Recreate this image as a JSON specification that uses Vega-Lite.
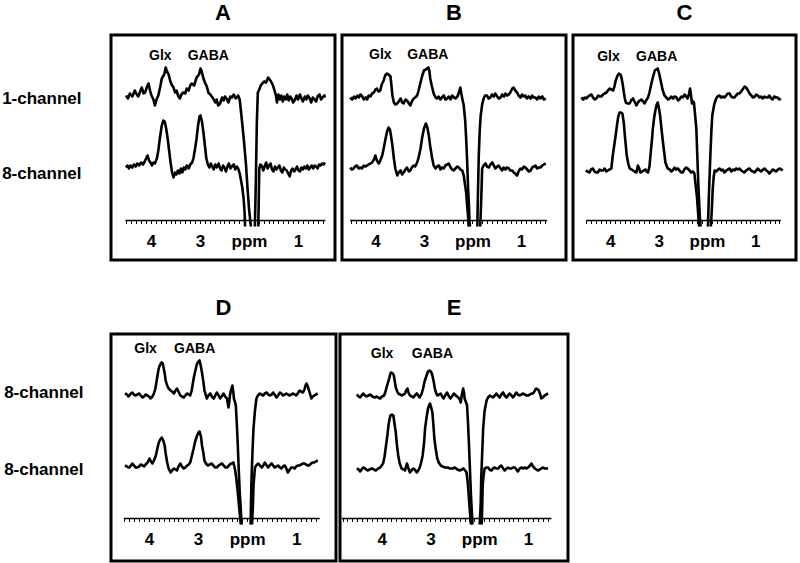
{
"$schema": "https://vega.github.io/schema/vega-lite/v6.json",
"background": "white",
"padding": {"left": 0, "top": 0, "right": 0, "bottom": 0},
"config": {
  "view": {"stroke": "black", "strokeWidth": 3},
  "font": "Liberation Sans",
  "title": {"fontSize": 22, "fontWeight": "bold", "color": "black", "font": "Liberation Sans", "anchor": "middle"}
},
"datasets": {
"base": [
 {"p":"A","x":4.52,"x2":0.44,"y":0},
 {"p":"B","x":4.52,"x2":0.46,"y":0},
 {"p":"C","x":4.50,"x2":0.47,"y":0},
 {"p":"D","x":4.51,"x2":0.52,"y":0},
 {"p":"E","x":4.82,"x2":0.52,"y":0}
],
"lab": [
 {"p":"A","x":3.81,"y":165,"text":"Glx"},{"p":"A","x":2.83,"y":165,"text":"GABA"},
 {"p":"B","x":3.90,"y":166,"text":"Glx"},{"p":"B","x":2.92,"y":166,"text":"GABA"},
 {"p":"C","x":4.04,"y":164,"text":"Glx"},{"p":"C","x":3.04,"y":164,"text":"GABA"},
 {"p":"D","x":4.07,"y":170,"text":"Glx"},{"p":"D","x":3.07,"y":170,"text":"GABA"},
 {"p":"E","x":3.99,"y":165,"text":"Glx"},{"p":"E","x":2.96,"y":165,"text":"GABA"}
],
"sp": [
{"p":"A","s":"1L","x":4.51,"y":125},{"p":"A","s":"1L","x":4.47,"y":122},{"p":"A","s":"1L","x":4.43,"y":127},{"p":"A","s":"1L","x":4.38,"y":124},{"p":"A","s":"1L","x":4.33,"y":130},{"p":"A","s":"1L","x":4.29,"y":126},{"p":"A","s":"1L","x":4.26,"y":124},{"p":"A","s":"1L","x":4.22,"y":129},{"p":"A","s":"1L","x":4.19,"y":133},{"p":"A","s":"1L","x":4.15,"y":127},{"p":"A","s":"1L","x":4.12,"y":128},{"p":"A","s":"1L","x":4.08,"y":134},{"p":"A","s":"1L","x":4.05,"y":137},{"p":"A","s":"1L","x":4.02,"y":130},{"p":"A","s":"1L","x":3.99,"y":125},{"p":"A","s":"1L","x":3.95,"y":121},{"p":"A","s":"1L","x":3.92,"y":115},{"p":"A","s":"1L","x":3.88,"y":122},{"p":"A","s":"1L","x":3.85,"y":125},{"p":"A","s":"1L","x":3.81,"y":134},{"p":"A","s":"1L","x":3.78,"y":142},{"p":"A","s":"1L","x":3.73,"y":146},{"p":"A","s":"1L","x":3.70,"y":153},{"p":"A","s":"1L","x":3.68,"y":150},{"p":"A","s":"1L","x":3.64,"y":146},{"p":"A","s":"1L","x":3.61,"y":140},{"p":"A","s":"1L","x":3.58,"y":136},{"p":"A","s":"1L","x":3.54,"y":133},{"p":"A","s":"1L","x":3.51,"y":128},{"p":"A","s":"1L","x":3.48,"y":130},{"p":"A","s":"1L","x":3.44,"y":124},{"p":"A","s":"1L","x":3.41,"y":122},{"p":"A","s":"1L","x":3.38,"y":126},{"p":"A","s":"1L","x":3.34,"y":128},{"p":"A","s":"1L","x":3.30,"y":127},{"p":"A","s":"1L","x":3.27,"y":132},{"p":"A","s":"1L","x":3.23,"y":130},{"p":"A","s":"1L","x":3.20,"y":135},{"p":"A","s":"1L","x":3.17,"y":137},{"p":"A","s":"1L","x":3.12,"y":135},{"p":"A","s":"1L","x":3.07,"y":143},{"p":"A","s":"1L","x":3.02,"y":146},{"p":"A","s":"1L","x":2.99,"y":152},{"p":"A","s":"1L","x":2.97,"y":150},{"p":"A","s":"1L","x":2.93,"y":142},{"p":"A","s":"1L","x":2.90,"y":138},{"p":"A","s":"1L","x":2.86,"y":134},{"p":"A","s":"1L","x":2.83,"y":128},{"p":"A","s":"1L","x":2.79,"y":126},{"p":"A","s":"1L","x":2.76,"y":124},{"p":"A","s":"1L","x":2.73,"y":122},{"p":"A","s":"1L","x":2.69,"y":118},{"p":"A","s":"1L","x":2.66,"y":121},{"p":"A","s":"1L","x":2.63,"y":115},{"p":"A","s":"1L","x":2.59,"y":117},{"p":"A","s":"1L","x":2.55,"y":123},{"p":"A","s":"1L","x":2.52,"y":120},{"p":"A","s":"1L","x":2.49,"y":124},{"p":"A","s":"1L","x":2.46,"y":122},{"p":"A","s":"1L","x":2.42,"y":118},{"p":"A","s":"1L","x":2.38,"y":124},{"p":"A","s":"1L","x":2.35,"y":123},{"p":"A","s":"1L","x":2.31,"y":126},{"p":"A","s":"1L","x":2.27,"y":122},{"p":"A","s":"1L","x":2.22,"y":125},{"p":"A","s":"1L","x":2.19,"y":121},{"p":"A","s":"1L","x":2.17,"y":112},{"p":"A","s":"1L","x":2.14,"y":98},{"p":"A","s":"1L","x":2.10,"y":78},{"p":"A","s":"1L","x":2.06,"y":55},{"p":"A","s":"1L","x":2.03,"y":32},{"p":"A","s":"1L","x":2.00,"y":12},{"p":"A","s":"1L","x":1.97,"y":-2},{"p":"A","s":"1L","x":1.96,"y":-6},
{"p":"A","s":"1R","x":1.88,"y":-6},{"p":"A","s":"1R","x":1.86,"y":40},{"p":"A","s":"1R","x":1.84,"y":98},{"p":"A","s":"1R","x":1.82,"y":128},{"p":"A","s":"1R","x":1.79,"y":131},{"p":"A","s":"1R","x":1.76,"y":135},{"p":"A","s":"1R","x":1.73,"y":137},{"p":"A","s":"1R","x":1.69,"y":139},{"p":"A","s":"1R","x":1.65,"y":138},{"p":"A","s":"1R","x":1.61,"y":143},{"p":"A","s":"1R","x":1.58,"y":141},{"p":"A","s":"1R","x":1.55,"y":139},{"p":"A","s":"1R","x":1.51,"y":135},{"p":"A","s":"1R","x":1.48,"y":130},{"p":"A","s":"1R","x":1.45,"y":125},{"p":"A","s":"1R","x":1.43,"y":118},{"p":"A","s":"1R","x":1.40,"y":126},{"p":"A","s":"1R","x":1.37,"y":121},{"p":"A","s":"1R","x":1.34,"y":125},{"p":"A","s":"1R","x":1.31,"y":119},{"p":"A","s":"1R","x":1.28,"y":124},{"p":"A","s":"1R","x":1.25,"y":121},{"p":"A","s":"1R","x":1.22,"y":126},{"p":"A","s":"1R","x":1.19,"y":120},{"p":"A","s":"1R","x":1.16,"y":124},{"p":"A","s":"1R","x":1.13,"y":122},{"p":"A","s":"1R","x":1.10,"y":118},{"p":"A","s":"1R","x":1.06,"y":121},{"p":"A","s":"1R","x":1.03,"y":125},{"p":"A","s":"1R","x":1.00,"y":121},{"p":"A","s":"1R","x":0.96,"y":126},{"p":"A","s":"1R","x":0.93,"y":122},{"p":"A","s":"1R","x":0.90,"y":119},{"p":"A","s":"1R","x":0.86,"y":124},{"p":"A","s":"1R","x":0.83,"y":121},{"p":"A","s":"1R","x":0.80,"y":125},{"p":"A","s":"1R","x":0.76,"y":122},{"p":"A","s":"1R","x":0.73,"y":118},{"p":"A","s":"1R","x":0.70,"y":123},{"p":"A","s":"1R","x":0.66,"y":121},{"p":"A","s":"1R","x":0.63,"y":119},{"p":"A","s":"1R","x":0.60,"y":124},{"p":"A","s":"1R","x":0.56,"y":126},{"p":"A","s":"1R","x":0.53,"y":121},{"p":"A","s":"1R","x":0.50,"y":123},{"p":"A","s":"1R","x":0.46,"y":125},{"p":"A","s":"1R","x":0.45,"y":123},
{"p":"A","s":"2L","x":4.51,"y":53},{"p":"A","s":"2L","x":4.48,"y":55},{"p":"A","s":"2L","x":4.45,"y":52},{"p":"A","s":"2L","x":4.42,"y":55},{"p":"A","s":"2L","x":4.38,"y":53},{"p":"A","s":"2L","x":4.35,"y":56},{"p":"A","s":"2L","x":4.31,"y":54},{"p":"A","s":"2L","x":4.28,"y":57},{"p":"A","s":"2L","x":4.24,"y":55},{"p":"A","s":"2L","x":4.20,"y":58},{"p":"A","s":"2L","x":4.16,"y":56},{"p":"A","s":"2L","x":4.13,"y":59},{"p":"A","s":"2L","x":4.10,"y":62},{"p":"A","s":"2L","x":4.07,"y":65},{"p":"A","s":"2L","x":4.04,"y":60},{"p":"A","s":"2L","x":4.01,"y":58},{"p":"A","s":"2L","x":3.98,"y":55},{"p":"A","s":"2L","x":3.95,"y":58},{"p":"A","s":"2L","x":3.92,"y":57},{"p":"A","s":"2L","x":3.88,"y":62},{"p":"A","s":"2L","x":3.85,"y":70},{"p":"A","s":"2L","x":3.82,"y":82},{"p":"A","s":"2L","x":3.78,"y":95},{"p":"A","s":"2L","x":3.75,"y":100},{"p":"A","s":"2L","x":3.72,"y":99},{"p":"A","s":"2L","x":3.69,"y":92},{"p":"A","s":"2L","x":3.66,"y":82},{"p":"A","s":"2L","x":3.63,"y":70},{"p":"A","s":"2L","x":3.60,"y":58},{"p":"A","s":"2L","x":3.57,"y":48},{"p":"A","s":"2L","x":3.54,"y":43},{"p":"A","s":"2L","x":3.51,"y":48},{"p":"A","s":"2L","x":3.48,"y":46},{"p":"A","s":"2L","x":3.45,"y":50},{"p":"A","s":"2L","x":3.42,"y":47},{"p":"A","s":"2L","x":3.39,"y":52},{"p":"A","s":"2L","x":3.36,"y":48},{"p":"A","s":"2L","x":3.33,"y":53},{"p":"A","s":"2L","x":3.30,"y":51},{"p":"A","s":"2L","x":3.27,"y":55},{"p":"A","s":"2L","x":3.23,"y":52},{"p":"A","s":"2L","x":3.20,"y":56},{"p":"A","s":"2L","x":3.16,"y":58},{"p":"A","s":"2L","x":3.13,"y":63},{"p":"A","s":"2L","x":3.10,"y":72},{"p":"A","s":"2L","x":3.07,"y":82},{"p":"A","s":"2L","x":3.04,"y":95},{"p":"A","s":"2L","x":3.01,"y":104},{"p":"A","s":"2L","x":2.99,"y":105},{"p":"A","s":"2L","x":2.96,"y":99},{"p":"A","s":"2L","x":2.93,"y":88},{"p":"A","s":"2L","x":2.90,"y":75},{"p":"A","s":"2L","x":2.87,"y":62},{"p":"A","s":"2L","x":2.84,"y":56},{"p":"A","s":"2L","x":2.81,"y":53},{"p":"A","s":"2L","x":2.78,"y":57},{"p":"A","s":"2L","x":2.75,"y":54},{"p":"A","s":"2L","x":2.72,"y":51},{"p":"A","s":"2L","x":2.69,"y":56},{"p":"A","s":"2L","x":2.66,"y":53},{"p":"A","s":"2L","x":2.62,"y":57},{"p":"A","s":"2L","x":2.59,"y":52},{"p":"A","s":"2L","x":2.56,"y":50},{"p":"A","s":"2L","x":2.53,"y":55},{"p":"A","s":"2L","x":2.50,"y":53},{"p":"A","s":"2L","x":2.47,"y":49},{"p":"A","s":"2L","x":2.44,"y":54},{"p":"A","s":"2L","x":2.41,"y":57},{"p":"A","s":"2L","x":2.38,"y":52},{"p":"A","s":"2L","x":2.35,"y":54},{"p":"A","s":"2L","x":2.31,"y":56},{"p":"A","s":"2L","x":2.28,"y":51},{"p":"A","s":"2L","x":2.25,"y":54},{"p":"A","s":"2L","x":2.22,"y":52},{"p":"A","s":"2L","x":2.19,"y":47},{"p":"A","s":"2L","x":2.17,"y":42},{"p":"A","s":"2L","x":2.14,"y":34},{"p":"A","s":"2L","x":2.11,"y":22},{"p":"A","s":"2L","x":2.09,"y":8},{"p":"A","s":"2L","x":2.08,"y":-6},
{"p":"A","s":"2R","x":1.81,"y":-6},{"p":"A","s":"2R","x":1.80,"y":25},{"p":"A","s":"2R","x":1.79,"y":52},{"p":"A","s":"2R","x":1.77,"y":56},{"p":"A","s":"2R","x":1.74,"y":55},{"p":"A","s":"2R","x":1.71,"y":50},{"p":"A","s":"2R","x":1.68,"y":54},{"p":"A","s":"2R","x":1.65,"y":58},{"p":"A","s":"2R","x":1.62,"y":52},{"p":"A","s":"2R","x":1.59,"y":55},{"p":"A","s":"2R","x":1.56,"y":57},{"p":"A","s":"2R","x":1.53,"y":51},{"p":"A","s":"2R","x":1.50,"y":49},{"p":"A","s":"2R","x":1.47,"y":54},{"p":"A","s":"2R","x":1.44,"y":51},{"p":"A","s":"2R","x":1.41,"y":53},{"p":"A","s":"2R","x":1.38,"y":55},{"p":"A","s":"2R","x":1.35,"y":50},{"p":"A","s":"2R","x":1.32,"y":48},{"p":"A","s":"2R","x":1.29,"y":53},{"p":"A","s":"2R","x":1.26,"y":51},{"p":"A","s":"2R","x":1.23,"y":50},{"p":"A","s":"2R","x":1.20,"y":47},{"p":"A","s":"2R","x":1.17,"y":44},{"p":"A","s":"2R","x":1.14,"y":50},{"p":"A","s":"2R","x":1.11,"y":52},{"p":"A","s":"2R","x":1.08,"y":49},{"p":"A","s":"2R","x":1.05,"y":51},{"p":"A","s":"2R","x":1.02,"y":54},{"p":"A","s":"2R","x":0.99,"y":50},{"p":"A","s":"2R","x":0.96,"y":49},{"p":"A","s":"2R","x":0.93,"y":53},{"p":"A","s":"2R","x":0.90,"y":51},{"p":"A","s":"2R","x":0.87,"y":54},{"p":"A","s":"2R","x":0.84,"y":52},{"p":"A","s":"2R","x":0.81,"y":55},{"p":"A","s":"2R","x":0.78,"y":51},{"p":"A","s":"2R","x":0.75,"y":53},{"p":"A","s":"2R","x":0.72,"y":55},{"p":"A","s":"2R","x":0.69,"y":52},{"p":"A","s":"2R","x":0.66,"y":55},{"p":"A","s":"2R","x":0.63,"y":54},{"p":"A","s":"2R","x":0.60,"y":52},{"p":"A","s":"2R","x":0.57,"y":56},{"p":"A","s":"2R","x":0.54,"y":55},{"p":"A","s":"2R","x":0.51,"y":57},{"p":"A","s":"2R","x":0.48,"y":56},{"p":"A","s":"2R","x":0.45,"y":58},
{"p":"B","s":"1L","x":4.52,"y":123},{"p":"B","s":"1L","x":4.48,"y":121},{"p":"B","s":"1L","x":4.44,"y":124},{"p":"B","s":"1L","x":4.41,"y":122},{"p":"B","s":"1L","x":4.37,"y":125},{"p":"B","s":"1L","x":4.34,"y":123},{"p":"B","s":"1L","x":4.31,"y":126},{"p":"B","s":"1L","x":4.27,"y":124},{"p":"B","s":"1L","x":4.24,"y":121},{"p":"B","s":"1L","x":4.20,"y":123},{"p":"B","s":"1L","x":4.17,"y":121},{"p":"B","s":"1L","x":4.14,"y":125},{"p":"B","s":"1L","x":4.10,"y":124},{"p":"B","s":"1L","x":4.07,"y":127},{"p":"B","s":"1L","x":4.03,"y":128},{"p":"B","s":"1L","x":4.00,"y":131},{"p":"B","s":"1L","x":3.97,"y":132},{"p":"B","s":"1L","x":3.94,"y":129},{"p":"B","s":"1L","x":3.90,"y":130},{"p":"B","s":"1L","x":3.87,"y":136},{"p":"B","s":"1L","x":3.83,"y":140},{"p":"B","s":"1L","x":3.80,"y":145},{"p":"B","s":"1L","x":3.76,"y":147},{"p":"B","s":"1L","x":3.73,"y":146},{"p":"B","s":"1L","x":3.69,"y":144},{"p":"B","s":"1L","x":3.67,"y":135},{"p":"B","s":"1L","x":3.65,"y":125},{"p":"B","s":"1L","x":3.62,"y":118},{"p":"B","s":"1L","x":3.59,"y":116},{"p":"B","s":"1L","x":3.55,"y":117},{"p":"B","s":"1L","x":3.52,"y":119},{"p":"B","s":"1L","x":3.48,"y":122},{"p":"B","s":"1L","x":3.45,"y":118},{"p":"B","s":"1L","x":3.42,"y":117},{"p":"B","s":"1L","x":3.38,"y":121},{"p":"B","s":"1L","x":3.35,"y":120},{"p":"B","s":"1L","x":3.31,"y":117},{"p":"B","s":"1L","x":3.28,"y":115},{"p":"B","s":"1L","x":3.25,"y":119},{"p":"B","s":"1L","x":3.21,"y":122},{"p":"B","s":"1L","x":3.18,"y":123},{"p":"B","s":"1L","x":3.14,"y":125},{"p":"B","s":"1L","x":3.11,"y":130},{"p":"B","s":"1L","x":3.07,"y":138},{"p":"B","s":"1L","x":3.04,"y":144},{"p":"B","s":"1L","x":3.00,"y":150},{"p":"B","s":"1L","x":2.96,"y":151},{"p":"B","s":"1L","x":2.91,"y":153},{"p":"B","s":"1L","x":2.89,"y":150},{"p":"B","s":"1L","x":2.87,"y":142},{"p":"B","s":"1L","x":2.84,"y":135},{"p":"B","s":"1L","x":2.80,"y":127},{"p":"B","s":"1L","x":2.76,"y":123},{"p":"B","s":"1L","x":2.73,"y":122},{"p":"B","s":"1L","x":2.70,"y":124},{"p":"B","s":"1L","x":2.66,"y":121},{"p":"B","s":"1L","x":2.63,"y":123},{"p":"B","s":"1L","x":2.59,"y":125},{"p":"B","s":"1L","x":2.56,"y":121},{"p":"B","s":"1L","x":2.52,"y":122},{"p":"B","s":"1L","x":2.49,"y":124},{"p":"B","s":"1L","x":2.45,"y":121},{"p":"B","s":"1L","x":2.42,"y":125},{"p":"B","s":"1L","x":2.38,"y":123},{"p":"B","s":"1L","x":2.35,"y":122},{"p":"B","s":"1L","x":2.31,"y":124},{"p":"B","s":"1L","x":2.28,"y":128},{"p":"B","s":"1L","x":2.25,"y":133},{"p":"B","s":"1L","x":2.23,"y":127},{"p":"B","s":"1L","x":2.21,"y":122},{"p":"B","s":"1L","x":2.18,"y":115},{"p":"B","s":"1L","x":2.15,"y":100},{"p":"B","s":"1L","x":2.13,"y":82},{"p":"B","s":"1L","x":2.11,"y":60},{"p":"B","s":"1L","x":2.09,"y":32},{"p":"B","s":"1L","x":2.07,"y":12},{"p":"B","s":"1L","x":2.06,"y":-2},{"p":"B","s":"1L","x":2.05,"y":-6},
{"p":"B","s":"1R","x":1.90,"y":-6},{"p":"B","s":"1R","x":1.89,"y":20},{"p":"B","s":"1R","x":1.87,"y":65},{"p":"B","s":"1R","x":1.85,"y":90},{"p":"B","s":"1R","x":1.83,"y":105},{"p":"B","s":"1R","x":1.80,"y":116},{"p":"B","s":"1R","x":1.77,"y":122},{"p":"B","s":"1R","x":1.74,"y":125},{"p":"B","s":"1R","x":1.70,"y":125},{"p":"B","s":"1R","x":1.67,"y":122},{"p":"B","s":"1R","x":1.63,"y":123},{"p":"B","s":"1R","x":1.60,"y":126},{"p":"B","s":"1R","x":1.56,"y":124},{"p":"B","s":"1R","x":1.53,"y":127},{"p":"B","s":"1R","x":1.49,"y":124},{"p":"B","s":"1R","x":1.46,"y":122},{"p":"B","s":"1R","x":1.42,"y":123},{"p":"B","s":"1R","x":1.39,"y":126},{"p":"B","s":"1R","x":1.35,"y":124},{"p":"B","s":"1R","x":1.32,"y":127},{"p":"B","s":"1R","x":1.29,"y":125},{"p":"B","s":"1R","x":1.25,"y":126},{"p":"B","s":"1R","x":1.22,"y":128},{"p":"B","s":"1R","x":1.18,"y":132},{"p":"B","s":"1R","x":1.15,"y":133},{"p":"B","s":"1R","x":1.12,"y":130},{"p":"B","s":"1R","x":1.08,"y":128},{"p":"B","s":"1R","x":1.05,"y":125},{"p":"B","s":"1R","x":1.01,"y":123},{"p":"B","s":"1R","x":0.98,"y":126},{"p":"B","s":"1R","x":0.95,"y":124},{"p":"B","s":"1R","x":0.91,"y":125},{"p":"B","s":"1R","x":0.88,"y":122},{"p":"B","s":"1R","x":0.84,"y":124},{"p":"B","s":"1R","x":0.80,"y":122},{"p":"B","s":"1R","x":0.77,"y":125},{"p":"B","s":"1R","x":0.74,"y":123},{"p":"B","s":"1R","x":0.70,"y":123},{"p":"B","s":"1R","x":0.67,"y":121},{"p":"B","s":"1R","x":0.63,"y":124},{"p":"B","s":"1R","x":0.60,"y":122},{"p":"B","s":"1R","x":0.56,"y":124},{"p":"B","s":"1R","x":0.53,"y":121},{"p":"B","s":"1R","x":0.49,"y":122},
{"p":"B","s":"2L","x":4.52,"y":53},{"p":"B","s":"2L","x":4.49,"y":51},{"p":"B","s":"2L","x":4.45,"y":52},{"p":"B","s":"2L","x":4.42,"y":54},{"p":"B","s":"2L","x":4.38,"y":55},{"p":"B","s":"2L","x":4.35,"y":52},{"p":"B","s":"2L","x":4.31,"y":53},{"p":"B","s":"2L","x":4.28,"y":52},{"p":"B","s":"2L","x":4.24,"y":55},{"p":"B","s":"2L","x":4.21,"y":54},{"p":"B","s":"2L","x":4.17,"y":55},{"p":"B","s":"2L","x":4.14,"y":56},{"p":"B","s":"2L","x":4.10,"y":57},{"p":"B","s":"2L","x":4.07,"y":58},{"p":"B","s":"2L","x":4.03,"y":61},{"p":"B","s":"2L","x":4.00,"y":65},{"p":"B","s":"2L","x":3.97,"y":60},{"p":"B","s":"2L","x":3.93,"y":57},{"p":"B","s":"2L","x":3.90,"y":60},{"p":"B","s":"2L","x":3.86,"y":65},{"p":"B","s":"2L","x":3.83,"y":72},{"p":"B","s":"2L","x":3.79,"y":82},{"p":"B","s":"2L","x":3.76,"y":89},{"p":"B","s":"2L","x":3.73,"y":93},{"p":"B","s":"2L","x":3.70,"y":91},{"p":"B","s":"2L","x":3.68,"y":85},{"p":"B","s":"2L","x":3.65,"y":75},{"p":"B","s":"2L","x":3.62,"y":62},{"p":"B","s":"2L","x":3.59,"y":52},{"p":"B","s":"2L","x":3.55,"y":45},{"p":"B","s":"2L","x":3.52,"y":48},{"p":"B","s":"2L","x":3.48,"y":50},{"p":"B","s":"2L","x":3.45,"y":46},{"p":"B","s":"2L","x":3.42,"y":48},{"p":"B","s":"2L","x":3.38,"y":51},{"p":"B","s":"2L","x":3.35,"y":53},{"p":"B","s":"2L","x":3.31,"y":49},{"p":"B","s":"2L","x":3.28,"y":50},{"p":"B","s":"2L","x":3.25,"y":53},{"p":"B","s":"2L","x":3.21,"y":55},{"p":"B","s":"2L","x":3.18,"y":54},{"p":"B","s":"2L","x":3.14,"y":58},{"p":"B","s":"2L","x":3.11,"y":63},{"p":"B","s":"2L","x":3.07,"y":72},{"p":"B","s":"2L","x":3.04,"y":82},{"p":"B","s":"2L","x":3.00,"y":92},{"p":"B","s":"2L","x":2.96,"y":97},{"p":"B","s":"2L","x":2.93,"y":93},{"p":"B","s":"2L","x":2.90,"y":85},{"p":"B","s":"2L","x":2.87,"y":74},{"p":"B","s":"2L","x":2.83,"y":62},{"p":"B","s":"2L","x":2.80,"y":55},{"p":"B","s":"2L","x":2.76,"y":52},{"p":"B","s":"2L","x":2.73,"y":54},{"p":"B","s":"2L","x":2.69,"y":55},{"p":"B","s":"2L","x":2.66,"y":51},{"p":"B","s":"2L","x":2.63,"y":53},{"p":"B","s":"2L","x":2.59,"y":52},{"p":"B","s":"2L","x":2.56,"y":55},{"p":"B","s":"2L","x":2.52,"y":56},{"p":"B","s":"2L","x":2.49,"y":57},{"p":"B","s":"2L","x":2.45,"y":53},{"p":"B","s":"2L","x":2.42,"y":51},{"p":"B","s":"2L","x":2.39,"y":50},{"p":"B","s":"2L","x":2.35,"y":52},{"p":"B","s":"2L","x":2.31,"y":54},{"p":"B","s":"2L","x":2.28,"y":53},{"p":"B","s":"2L","x":2.25,"y":51},{"p":"B","s":"2L","x":2.21,"y":50},{"p":"B","s":"2L","x":2.18,"y":45},{"p":"B","s":"2L","x":2.16,"y":38},{"p":"B","s":"2L","x":2.13,"y":28},{"p":"B","s":"2L","x":2.11,"y":15},{"p":"B","s":"2L","x":2.09,"y":4},{"p":"B","s":"2L","x":2.08,"y":-6},
{"p":"B","s":"2R","x":1.84,"y":-6},{"p":"B","s":"2R","x":1.82,"y":20},{"p":"B","s":"2R","x":1.80,"y":52},{"p":"B","s":"2R","x":1.77,"y":55},{"p":"B","s":"2R","x":1.73,"y":57},{"p":"B","s":"2R","x":1.70,"y":54},{"p":"B","s":"2R","x":1.66,"y":53},{"p":"B","s":"2R","x":1.63,"y":56},{"p":"B","s":"2R","x":1.59,"y":58},{"p":"B","s":"2R","x":1.56,"y":55},{"p":"B","s":"2R","x":1.53,"y":52},{"p":"B","s":"2R","x":1.49,"y":54},{"p":"B","s":"2R","x":1.46,"y":55},{"p":"B","s":"2R","x":1.42,"y":52},{"p":"B","s":"2R","x":1.39,"y":50},{"p":"B","s":"2R","x":1.36,"y":53},{"p":"B","s":"2R","x":1.32,"y":51},{"p":"B","s":"2R","x":1.29,"y":53},{"p":"B","s":"2R","x":1.25,"y":52},{"p":"B","s":"2R","x":1.22,"y":50},{"p":"B","s":"2R","x":1.18,"y":50},{"p":"B","s":"2R","x":1.15,"y":48},{"p":"B","s":"2R","x":1.12,"y":47},{"p":"B","s":"2R","x":1.08,"y":45},{"p":"B","s":"2R","x":1.05,"y":49},{"p":"B","s":"2R","x":1.01,"y":52},{"p":"B","s":"2R","x":0.98,"y":51},{"p":"B","s":"2R","x":0.94,"y":54},{"p":"B","s":"2R","x":0.91,"y":53},{"p":"B","s":"2R","x":0.87,"y":51},{"p":"B","s":"2R","x":0.84,"y":49},{"p":"B","s":"2R","x":0.80,"y":50},{"p":"B","s":"2R","x":0.77,"y":53},{"p":"B","s":"2R","x":0.73,"y":54},{"p":"B","s":"2R","x":0.70,"y":55},{"p":"B","s":"2R","x":0.67,"y":52},{"p":"B","s":"2R","x":0.63,"y":53},{"p":"B","s":"2R","x":0.60,"y":53},{"p":"B","s":"2R","x":0.56,"y":55},{"p":"B","s":"2R","x":0.53,"y":56},{"p":"B","s":"2R","x":0.49,"y":57},
{"p":"C","s":"1L","x":4.60,"y":123},{"p":"C","s":"1L","x":4.56,"y":121},{"p":"C","s":"1L","x":4.53,"y":123},{"p":"C","s":"1L","x":4.50,"y":122},{"p":"C","s":"1L","x":4.46,"y":124},{"p":"C","s":"1L","x":4.43,"y":125},{"p":"C","s":"1L","x":4.39,"y":126},{"p":"C","s":"1L","x":4.36,"y":123},{"p":"C","s":"1L","x":4.32,"y":121},{"p":"C","s":"1L","x":4.29,"y":122},{"p":"C","s":"1L","x":4.25,"y":125},{"p":"C","s":"1L","x":4.22,"y":124},{"p":"C","s":"1L","x":4.19,"y":124},{"p":"C","s":"1L","x":4.15,"y":126},{"p":"C","s":"1L","x":4.12,"y":127},{"p":"C","s":"1L","x":4.08,"y":128},{"p":"C","s":"1L","x":4.05,"y":130},{"p":"C","s":"1L","x":4.01,"y":132},{"p":"C","s":"1L","x":3.98,"y":131},{"p":"C","s":"1L","x":3.94,"y":130},{"p":"C","s":"1L","x":3.91,"y":135},{"p":"C","s":"1L","x":3.89,"y":140},{"p":"C","s":"1L","x":3.85,"y":145},{"p":"C","s":"1L","x":3.82,"y":147},{"p":"C","s":"1L","x":3.79,"y":146},{"p":"C","s":"1L","x":3.77,"y":143},{"p":"C","s":"1L","x":3.74,"y":135},{"p":"C","s":"1L","x":3.72,"y":128},{"p":"C","s":"1L","x":3.70,"y":122},{"p":"C","s":"1L","x":3.68,"y":118},{"p":"C","s":"1L","x":3.64,"y":117},{"p":"C","s":"1L","x":3.60,"y":117},{"p":"C","s":"1L","x":3.57,"y":120},{"p":"C","s":"1L","x":3.53,"y":122},{"p":"C","s":"1L","x":3.50,"y":119},{"p":"C","s":"1L","x":3.46,"y":115},{"p":"C","s":"1L","x":3.43,"y":118},{"p":"C","s":"1L","x":3.39,"y":120},{"p":"C","s":"1L","x":3.36,"y":121},{"p":"C","s":"1L","x":3.32,"y":119},{"p":"C","s":"1L","x":3.29,"y":117},{"p":"C","s":"1L","x":3.26,"y":120},{"p":"C","s":"1L","x":3.22,"y":123},{"p":"C","s":"1L","x":3.19,"y":128},{"p":"C","s":"1L","x":3.15,"y":137},{"p":"C","s":"1L","x":3.12,"y":143},{"p":"C","s":"1L","x":3.08,"y":150},{"p":"C","s":"1L","x":3.05,"y":151},{"p":"C","s":"1L","x":3.02,"y":152},{"p":"C","s":"1L","x":2.99,"y":147},{"p":"C","s":"1L","x":2.95,"y":138},{"p":"C","s":"1L","x":2.92,"y":131},{"p":"C","s":"1L","x":2.88,"y":125},{"p":"C","s":"1L","x":2.84,"y":123},{"p":"C","s":"1L","x":2.81,"y":121},{"p":"C","s":"1L","x":2.77,"y":122},{"p":"C","s":"1L","x":2.74,"y":124},{"p":"C","s":"1L","x":2.70,"y":122},{"p":"C","s":"1L","x":2.67,"y":124},{"p":"C","s":"1L","x":2.63,"y":123},{"p":"C","s":"1L","x":2.60,"y":120},{"p":"C","s":"1L","x":2.57,"y":121},{"p":"C","s":"1L","x":2.53,"y":124},{"p":"C","s":"1L","x":2.50,"y":123},{"p":"C","s":"1L","x":2.46,"y":126},{"p":"C","s":"1L","x":2.43,"y":124},{"p":"C","s":"1L","x":2.40,"y":122},{"p":"C","s":"1L","x":2.37,"y":127},{"p":"C","s":"1L","x":2.35,"y":132},{"p":"C","s":"1L","x":2.33,"y":125},{"p":"C","s":"1L","x":2.31,"y":117},{"p":"C","s":"1L","x":2.29,"y":119},{"p":"C","s":"1L","x":2.27,"y":118},{"p":"C","s":"1L","x":2.25,"y":108},{"p":"C","s":"1L","x":2.22,"y":92},{"p":"C","s":"1L","x":2.20,"y":65},{"p":"C","s":"1L","x":2.18,"y":38},{"p":"C","s":"1L","x":2.16,"y":16},{"p":"C","s":"1L","x":2.14,"y":-2},{"p":"C","s":"1L","x":2.13,"y":-6},
{"p":"C","s":"1R","x":1.98,"y":-6},{"p":"C","s":"1R","x":1.96,"y":25},{"p":"C","s":"1R","x":1.93,"y":65},{"p":"C","s":"1R","x":1.91,"y":88},{"p":"C","s":"1R","x":1.89,"y":105},{"p":"C","s":"1R","x":1.85,"y":116},{"p":"C","s":"1R","x":1.81,"y":122},{"p":"C","s":"1R","x":1.78,"y":124},{"p":"C","s":"1R","x":1.74,"y":125},{"p":"C","s":"1R","x":1.71,"y":123},{"p":"C","s":"1R","x":1.67,"y":124},{"p":"C","s":"1R","x":1.64,"y":123},{"p":"C","s":"1R","x":1.60,"y":125},{"p":"C","s":"1R","x":1.57,"y":127},{"p":"C","s":"1R","x":1.53,"y":127},{"p":"C","s":"1R","x":1.50,"y":124},{"p":"C","s":"1R","x":1.46,"y":123},{"p":"C","s":"1R","x":1.43,"y":123},{"p":"C","s":"1R","x":1.40,"y":125},{"p":"C","s":"1R","x":1.36,"y":127},{"p":"C","s":"1R","x":1.33,"y":127},{"p":"C","s":"1R","x":1.29,"y":129},{"p":"C","s":"1R","x":1.25,"y":132},{"p":"C","s":"1R","x":1.22,"y":134},{"p":"C","s":"1R","x":1.19,"y":133},{"p":"C","s":"1R","x":1.15,"y":130},{"p":"C","s":"1R","x":1.12,"y":127},{"p":"C","s":"1R","x":1.08,"y":125},{"p":"C","s":"1R","x":1.05,"y":123},{"p":"C","s":"1R","x":1.01,"y":124},{"p":"C","s":"1R","x":0.98,"y":126},{"p":"C","s":"1R","x":0.95,"y":125},{"p":"C","s":"1R","x":0.91,"y":123},{"p":"C","s":"1R","x":0.88,"y":124},{"p":"C","s":"1R","x":0.85,"y":122},{"p":"C","s":"1R","x":0.81,"y":124},{"p":"C","s":"1R","x":0.78,"y":123},{"p":"C","s":"1R","x":0.74,"y":123},{"p":"C","s":"1R","x":0.71,"y":125},{"p":"C","s":"1R","x":0.67,"y":122},{"p":"C","s":"1R","x":0.64,"y":121},{"p":"C","s":"1R","x":0.61,"y":124},{"p":"C","s":"1R","x":0.57,"y":123},{"p":"C","s":"1R","x":0.54,"y":123},{"p":"C","s":"1R","x":0.50,"y":121},{"p":"C","s":"1R","x":0.47,"y":122},
{"p":"C","s":"2L","x":4.51,"y":50},{"p":"C","s":"2L","x":4.47,"y":49},{"p":"C","s":"2L","x":4.43,"y":48},{"p":"C","s":"2L","x":4.40,"y":51},{"p":"C","s":"2L","x":4.36,"y":52},{"p":"C","s":"2L","x":4.33,"y":49},{"p":"C","s":"2L","x":4.29,"y":48},{"p":"C","s":"2L","x":4.26,"y":48},{"p":"C","s":"2L","x":4.22,"y":51},{"p":"C","s":"2L","x":4.19,"y":50},{"p":"C","s":"2L","x":4.15,"y":50},{"p":"C","s":"2L","x":4.12,"y":52},{"p":"C","s":"2L","x":4.08,"y":49},{"p":"C","s":"2L","x":4.05,"y":50},{"p":"C","s":"2L","x":4.02,"y":51},{"p":"C","s":"2L","x":3.98,"y":52},{"p":"C","s":"2L","x":3.95,"y":65},{"p":"C","s":"2L","x":3.92,"y":75},{"p":"C","s":"2L","x":3.89,"y":85},{"p":"C","s":"2L","x":3.86,"y":96},{"p":"C","s":"2L","x":3.84,"y":103},{"p":"C","s":"2L","x":3.81,"y":108},{"p":"C","s":"2L","x":3.78,"y":108},{"p":"C","s":"2L","x":3.75,"y":107},{"p":"C","s":"2L","x":3.72,"y":97},{"p":"C","s":"2L","x":3.70,"y":85},{"p":"C","s":"2L","x":3.68,"y":75},{"p":"C","s":"2L","x":3.66,"y":65},{"p":"C","s":"2L","x":3.63,"y":57},{"p":"C","s":"2L","x":3.60,"y":52},{"p":"C","s":"2L","x":3.56,"y":51},{"p":"C","s":"2L","x":3.53,"y":50},{"p":"C","s":"2L","x":3.50,"y":49},{"p":"C","s":"2L","x":3.46,"y":48},{"p":"C","s":"2L","x":3.43,"y":55},{"p":"C","s":"2L","x":3.40,"y":52},{"p":"C","s":"2L","x":3.38,"y":48},{"p":"C","s":"2L","x":3.34,"y":49},{"p":"C","s":"2L","x":3.31,"y":50},{"p":"C","s":"2L","x":3.27,"y":51},{"p":"C","s":"2L","x":3.25,"y":49},{"p":"C","s":"2L","x":3.22,"y":48},{"p":"C","s":"2L","x":3.19,"y":54},{"p":"C","s":"2L","x":3.17,"y":65},{"p":"C","s":"2L","x":3.14,"y":80},{"p":"C","s":"2L","x":3.12,"y":92},{"p":"C","s":"2L","x":3.09,"y":104},{"p":"C","s":"2L","x":3.06,"y":112},{"p":"C","s":"2L","x":3.04,"y":116},{"p":"C","s":"2L","x":3.02,"y":118},{"p":"C","s":"2L","x":3.00,"y":114},{"p":"C","s":"2L","x":2.97,"y":105},{"p":"C","s":"2L","x":2.94,"y":91},{"p":"C","s":"2L","x":2.91,"y":78},{"p":"C","s":"2L","x":2.88,"y":66},{"p":"C","s":"2L","x":2.86,"y":58},{"p":"C","s":"2L","x":2.83,"y":54},{"p":"C","s":"2L","x":2.81,"y":52},{"p":"C","s":"2L","x":2.77,"y":51},{"p":"C","s":"2L","x":2.74,"y":49},{"p":"C","s":"2L","x":2.71,"y":50},{"p":"C","s":"2L","x":2.67,"y":53},{"p":"C","s":"2L","x":2.64,"y":51},{"p":"C","s":"2L","x":2.60,"y":52},{"p":"C","s":"2L","x":2.57,"y":50},{"p":"C","s":"2L","x":2.53,"y":48},{"p":"C","s":"2L","x":2.50,"y":48},{"p":"C","s":"2L","x":2.47,"y":51},{"p":"C","s":"2L","x":2.43,"y":53},{"p":"C","s":"2L","x":2.40,"y":52},{"p":"C","s":"2L","x":2.36,"y":50},{"p":"C","s":"2L","x":2.33,"y":48},{"p":"C","s":"2L","x":2.29,"y":49},{"p":"C","s":"2L","x":2.26,"y":47},{"p":"C","s":"2L","x":2.24,"y":38},{"p":"C","s":"2L","x":2.21,"y":25},{"p":"C","s":"2L","x":2.19,"y":12},{"p":"C","s":"2L","x":2.17,"y":-2},{"p":"C","s":"2L","x":2.16,"y":-6},
{"p":"C","s":"2R","x":1.92,"y":-6},{"p":"C","s":"2R","x":1.90,"y":10},{"p":"C","s":"2R","x":1.88,"y":32},{"p":"C","s":"2R","x":1.86,"y":44},{"p":"C","s":"2R","x":1.84,"y":50},{"p":"C","s":"2R","x":1.81,"y":49},{"p":"C","s":"2R","x":1.77,"y":51},{"p":"C","s":"2R","x":1.74,"y":52},{"p":"C","s":"2R","x":1.70,"y":50},{"p":"C","s":"2R","x":1.67,"y":51},{"p":"C","s":"2R","x":1.64,"y":48},{"p":"C","s":"2R","x":1.60,"y":50},{"p":"C","s":"2R","x":1.57,"y":51},{"p":"C","s":"2R","x":1.53,"y":52},{"p":"C","s":"2R","x":1.50,"y":49},{"p":"C","s":"2R","x":1.46,"y":51},{"p":"C","s":"2R","x":1.43,"y":50},{"p":"C","s":"2R","x":1.40,"y":52},{"p":"C","s":"2R","x":1.36,"y":51},{"p":"C","s":"2R","x":1.33,"y":52},{"p":"C","s":"2R","x":1.29,"y":50},{"p":"C","s":"2R","x":1.26,"y":49},{"p":"C","s":"2R","x":1.23,"y":48},{"p":"C","s":"2R","x":1.19,"y":50},{"p":"C","s":"2R","x":1.16,"y":51},{"p":"C","s":"2R","x":1.12,"y":52},{"p":"C","s":"2R","x":1.09,"y":50},{"p":"C","s":"2R","x":1.05,"y":49},{"p":"C","s":"2R","x":1.02,"y":48},{"p":"C","s":"2R","x":0.98,"y":50},{"p":"C","s":"2R","x":0.95,"y":52},{"p":"C","s":"2R","x":0.91,"y":50},{"p":"C","s":"2R","x":0.88,"y":49},{"p":"C","s":"2R","x":0.84,"y":51},{"p":"C","s":"2R","x":0.81,"y":52},{"p":"C","s":"2R","x":0.77,"y":50},{"p":"C","s":"2R","x":0.74,"y":49},{"p":"C","s":"2R","x":0.71,"y":47},{"p":"C","s":"2R","x":0.67,"y":49},{"p":"C","s":"2R","x":0.64,"y":51},{"p":"C","s":"2R","x":0.60,"y":50},{"p":"C","s":"2R","x":0.57,"y":49},{"p":"C","s":"2R","x":0.53,"y":51},{"p":"C","s":"2R","x":0.50,"y":52},{"p":"C","s":"2R","x":0.46,"y":51},{"p":"C","s":"2R","x":0.43,"y":50},
{"p":"D","s":"1L","x":4.49,"y":125},{"p":"D","s":"1L","x":4.45,"y":124},{"p":"D","s":"1L","x":4.42,"y":122},{"p":"D","s":"1L","x":4.40,"y":123},{"p":"D","s":"1L","x":4.37,"y":125},{"p":"D","s":"1L","x":4.34,"y":126},{"p":"D","s":"1L","x":4.31,"y":124},{"p":"D","s":"1L","x":4.27,"y":123},{"p":"D","s":"1L","x":4.24,"y":124},{"p":"D","s":"1L","x":4.20,"y":125},{"p":"D","s":"1L","x":4.17,"y":123},{"p":"D","s":"1L","x":4.13,"y":121},{"p":"D","s":"1L","x":4.10,"y":122},{"p":"D","s":"1L","x":4.07,"y":124},{"p":"D","s":"1L","x":4.03,"y":123},{"p":"D","s":"1L","x":4.00,"y":122},{"p":"D","s":"1L","x":3.97,"y":120},{"p":"D","s":"1L","x":3.93,"y":122},{"p":"D","s":"1L","x":3.90,"y":125},{"p":"D","s":"1L","x":3.87,"y":130},{"p":"D","s":"1L","x":3.85,"y":136},{"p":"D","s":"1L","x":3.83,"y":142},{"p":"D","s":"1L","x":3.81,"y":148},{"p":"D","s":"1L","x":3.79,"y":152},{"p":"D","s":"1L","x":3.76,"y":155},{"p":"D","s":"1L","x":3.74,"y":156},{"p":"D","s":"1L","x":3.72,"y":155},{"p":"D","s":"1L","x":3.70,"y":150},{"p":"D","s":"1L","x":3.68,"y":145},{"p":"D","s":"1L","x":3.66,"y":138},{"p":"D","s":"1L","x":3.63,"y":133},{"p":"D","s":"1L","x":3.60,"y":130},{"p":"D","s":"1L","x":3.56,"y":128},{"p":"D","s":"1L","x":3.53,"y":127},{"p":"D","s":"1L","x":3.49,"y":125},{"p":"D","s":"1L","x":3.46,"y":128},{"p":"D","s":"1L","x":3.43,"y":130},{"p":"D","s":"1L","x":3.40,"y":127},{"p":"D","s":"1L","x":3.36,"y":123},{"p":"D","s":"1L","x":3.33,"y":122},{"p":"D","s":"1L","x":3.29,"y":121},{"p":"D","s":"1L","x":3.26,"y":123},{"p":"D","s":"1L","x":3.22,"y":125},{"p":"D","s":"1L","x":3.19,"y":124},{"p":"D","s":"1L","x":3.16,"y":123},{"p":"D","s":"1L","x":3.13,"y":128},{"p":"D","s":"1L","x":3.09,"y":140},{"p":"D","s":"1L","x":3.06,"y":147},{"p":"D","s":"1L","x":3.02,"y":155},{"p":"D","s":"1L","x":2.99,"y":157},{"p":"D","s":"1L","x":2.97,"y":158},{"p":"D","s":"1L","x":2.95,"y":154},{"p":"D","s":"1L","x":2.92,"y":146},{"p":"D","s":"1L","x":2.89,"y":136},{"p":"D","s":"1L","x":2.87,"y":128},{"p":"D","s":"1L","x":2.84,"y":123},{"p":"D","s":"1L","x":2.82,"y":120},{"p":"D","s":"1L","x":2.79,"y":123},{"p":"D","s":"1L","x":2.75,"y":125},{"p":"D","s":"1L","x":2.72,"y":122},{"p":"D","s":"1L","x":2.68,"y":120},{"p":"D","s":"1L","x":2.65,"y":123},{"p":"D","s":"1L","x":2.62,"y":126},{"p":"D","s":"1L","x":2.58,"y":123},{"p":"D","s":"1L","x":2.55,"y":120},{"p":"D","s":"1L","x":2.52,"y":122},{"p":"D","s":"1L","x":2.48,"y":125},{"p":"D","s":"1L","x":2.45,"y":122},{"p":"D","s":"1L","x":2.41,"y":120},{"p":"D","s":"1L","x":2.39,"y":114},{"p":"D","s":"1L","x":2.38,"y":111},{"p":"D","s":"1L","x":2.36,"y":118},{"p":"D","s":"1L","x":2.35,"y":123},{"p":"D","s":"1L","x":2.33,"y":128},{"p":"D","s":"1L","x":2.30,"y":133},{"p":"D","s":"1L","x":2.28,"y":126},{"p":"D","s":"1L","x":2.27,"y":120},{"p":"D","s":"1L","x":2.25,"y":117},{"p":"D","s":"1L","x":2.23,"y":113},{"p":"D","s":"1L","x":2.21,"y":95},{"p":"D","s":"1L","x":2.19,"y":73},{"p":"D","s":"1L","x":2.17,"y":48},{"p":"D","s":"1L","x":2.15,"y":26},{"p":"D","s":"1L","x":2.13,"y":10},{"p":"D","s":"1L","x":2.12,"y":0},{"p":"D","s":"1L","x":2.11,"y":-6},
{"p":"D","s":"1R","x":1.93,"y":-6},{"p":"D","s":"1R","x":1.91,"y":40},{"p":"D","s":"1R","x":1.89,"y":68},{"p":"D","s":"1R","x":1.87,"y":90},{"p":"D","s":"1R","x":1.84,"y":108},{"p":"D","s":"1R","x":1.81,"y":120},{"p":"D","s":"1R","x":1.78,"y":123},{"p":"D","s":"1R","x":1.74,"y":125},{"p":"D","s":"1R","x":1.71,"y":124},{"p":"D","s":"1R","x":1.67,"y":123},{"p":"D","s":"1R","x":1.64,"y":125},{"p":"D","s":"1R","x":1.60,"y":126},{"p":"D","s":"1R","x":1.57,"y":124},{"p":"D","s":"1R","x":1.54,"y":123},{"p":"D","s":"1R","x":1.50,"y":124},{"p":"D","s":"1R","x":1.47,"y":126},{"p":"D","s":"1R","x":1.44,"y":124},{"p":"D","s":"1R","x":1.40,"y":121},{"p":"D","s":"1R","x":1.37,"y":123},{"p":"D","s":"1R","x":1.33,"y":126},{"p":"D","s":"1R","x":1.30,"y":125},{"p":"D","s":"1R","x":1.27,"y":123},{"p":"D","s":"1R","x":1.23,"y":124},{"p":"D","s":"1R","x":1.20,"y":125},{"p":"D","s":"1R","x":1.17,"y":124},{"p":"D","s":"1R","x":1.13,"y":123},{"p":"D","s":"1R","x":1.10,"y":124},{"p":"D","s":"1R","x":1.06,"y":125},{"p":"D","s":"1R","x":1.03,"y":124},{"p":"D","s":"1R","x":1.00,"y":123},{"p":"D","s":"1R","x":0.97,"y":125},{"p":"D","s":"1R","x":0.93,"y":128},{"p":"D","s":"1R","x":0.90,"y":127},{"p":"D","s":"1R","x":0.86,"y":126},{"p":"D","s":"1R","x":0.83,"y":129},{"p":"D","s":"1R","x":0.81,"y":133},{"p":"D","s":"1R","x":0.79,"y":135},{"p":"D","s":"1R","x":0.77,"y":133},{"p":"D","s":"1R","x":0.75,"y":130},{"p":"D","s":"1R","x":0.72,"y":125},{"p":"D","s":"1R","x":0.69,"y":120},{"p":"D","s":"1R","x":0.66,"y":122},{"p":"D","s":"1R","x":0.63,"y":123},{"p":"D","s":"1R","x":0.60,"y":124},{"p":"D","s":"1R","x":0.56,"y":125},
{"p":"D","s":"2L","x":4.49,"y":53},{"p":"D","s":"2L","x":4.45,"y":52},{"p":"D","s":"2L","x":4.42,"y":51},{"p":"D","s":"2L","x":4.40,"y":51},{"p":"D","s":"2L","x":4.37,"y":53},{"p":"D","s":"2L","x":4.34,"y":55},{"p":"D","s":"2L","x":4.31,"y":53},{"p":"D","s":"2L","x":4.27,"y":51},{"p":"D","s":"2L","x":4.24,"y":51},{"p":"D","s":"2L","x":4.20,"y":52},{"p":"D","s":"2L","x":4.17,"y":54},{"p":"D","s":"2L","x":4.13,"y":53},{"p":"D","s":"2L","x":4.10,"y":52},{"p":"D","s":"2L","x":4.07,"y":54},{"p":"D","s":"2L","x":4.03,"y":56},{"p":"D","s":"2L","x":3.99,"y":60},{"p":"D","s":"2L","x":3.96,"y":57},{"p":"D","s":"2L","x":3.93,"y":55},{"p":"D","s":"2L","x":3.90,"y":58},{"p":"D","s":"2L","x":3.86,"y":63},{"p":"D","s":"2L","x":3.83,"y":70},{"p":"D","s":"2L","x":3.80,"y":76},{"p":"D","s":"2L","x":3.77,"y":79},{"p":"D","s":"2L","x":3.74,"y":81},{"p":"D","s":"2L","x":3.71,"y":78},{"p":"D","s":"2L","x":3.68,"y":73},{"p":"D","s":"2L","x":3.66,"y":65},{"p":"D","s":"2L","x":3.63,"y":56},{"p":"D","s":"2L","x":3.60,"y":50},{"p":"D","s":"2L","x":3.56,"y":46},{"p":"D","s":"2L","x":3.53,"y":48},{"p":"D","s":"2L","x":3.49,"y":50},{"p":"D","s":"2L","x":3.46,"y":49},{"p":"D","s":"2L","x":3.43,"y":48},{"p":"D","s":"2L","x":3.40,"y":52},{"p":"D","s":"2L","x":3.36,"y":55},{"p":"D","s":"2L","x":3.33,"y":52},{"p":"D","s":"2L","x":3.29,"y":50},{"p":"D","s":"2L","x":3.26,"y":51},{"p":"D","s":"2L","x":3.22,"y":53},{"p":"D","s":"2L","x":3.19,"y":54},{"p":"D","s":"2L","x":3.16,"y":56},{"p":"D","s":"2L","x":3.13,"y":62},{"p":"D","s":"2L","x":3.09,"y":70},{"p":"D","s":"2L","x":3.06,"y":77},{"p":"D","s":"2L","x":3.02,"y":83},{"p":"D","s":"2L","x":2.99,"y":86},{"p":"D","s":"2L","x":2.97,"y":87},{"p":"D","s":"2L","x":2.94,"y":82},{"p":"D","s":"2L","x":2.92,"y":73},{"p":"D","s":"2L","x":2.89,"y":65},{"p":"D","s":"2L","x":2.87,"y":58},{"p":"D","s":"2L","x":2.84,"y":55},{"p":"D","s":"2L","x":2.80,"y":53},{"p":"D","s":"2L","x":2.76,"y":54},{"p":"D","s":"2L","x":2.72,"y":55},{"p":"D","s":"2L","x":2.69,"y":53},{"p":"D","s":"2L","x":2.65,"y":51},{"p":"D","s":"2L","x":2.62,"y":51},{"p":"D","s":"2L","x":2.58,"y":53},{"p":"D","s":"2L","x":2.55,"y":54},{"p":"D","s":"2L","x":2.51,"y":55},{"p":"D","s":"2L","x":2.48,"y":53},{"p":"D","s":"2L","x":2.44,"y":51},{"p":"D","s":"2L","x":2.41,"y":51},{"p":"D","s":"2L","x":2.37,"y":53},{"p":"D","s":"2L","x":2.33,"y":55},{"p":"D","s":"2L","x":2.30,"y":55},{"p":"D","s":"2L","x":2.28,"y":56},{"p":"D","s":"2L","x":2.25,"y":50},{"p":"D","s":"2L","x":2.22,"y":40},{"p":"D","s":"2L","x":2.19,"y":26},{"p":"D","s":"2L","x":2.16,"y":10},{"p":"D","s":"2L","x":2.14,"y":0},{"p":"D","s":"2L","x":2.13,"y":-6},
{"p":"D","s":"2R","x":1.90,"y":-6},{"p":"D","s":"2R","x":1.88,"y":15},{"p":"D","s":"2R","x":1.87,"y":33},{"p":"D","s":"2R","x":1.85,"y":45},{"p":"D","s":"2R","x":1.84,"y":51},{"p":"D","s":"2R","x":1.80,"y":54},{"p":"D","s":"2R","x":1.77,"y":55},{"p":"D","s":"2R","x":1.74,"y":53},{"p":"D","s":"2R","x":1.70,"y":51},{"p":"D","s":"2R","x":1.67,"y":53},{"p":"D","s":"2R","x":1.64,"y":56},{"p":"D","s":"2R","x":1.60,"y":53},{"p":"D","s":"2R","x":1.57,"y":51},{"p":"D","s":"2R","x":1.54,"y":53},{"p":"D","s":"2R","x":1.50,"y":55},{"p":"D","s":"2R","x":1.47,"y":53},{"p":"D","s":"2R","x":1.44,"y":51},{"p":"D","s":"2R","x":1.40,"y":52},{"p":"D","s":"2R","x":1.37,"y":53},{"p":"D","s":"2R","x":1.33,"y":51},{"p":"D","s":"2R","x":1.30,"y":50},{"p":"D","s":"2R","x":1.27,"y":52},{"p":"D","s":"2R","x":1.23,"y":53},{"p":"D","s":"2R","x":1.20,"y":50},{"p":"D","s":"2R","x":1.17,"y":46},{"p":"D","s":"2R","x":1.13,"y":49},{"p":"D","s":"2R","x":1.10,"y":51},{"p":"D","s":"2R","x":1.06,"y":51},{"p":"D","s":"2R","x":1.03,"y":50},{"p":"D","s":"2R","x":1.00,"y":52},{"p":"D","s":"2R","x":0.97,"y":53},{"p":"D","s":"2R","x":0.93,"y":53},{"p":"D","s":"2R","x":0.90,"y":54},{"p":"D","s":"2R","x":0.86,"y":55},{"p":"D","s":"2R","x":0.83,"y":55},{"p":"D","s":"2R","x":0.80,"y":54},{"p":"D","s":"2R","x":0.76,"y":53},{"p":"D","s":"2R","x":0.73,"y":53},{"p":"D","s":"2R","x":0.70,"y":55},{"p":"D","s":"2R","x":0.66,"y":56},{"p":"D","s":"2R","x":0.63,"y":56},{"p":"D","s":"2R","x":0.60,"y":57},{"p":"D","s":"2R","x":0.56,"y":58},
{"p":"E","s":"1L","x":4.51,"y":124},{"p":"E","s":"1L","x":4.47,"y":122},{"p":"E","s":"1L","x":4.44,"y":121},{"p":"E","s":"1L","x":4.41,"y":123},{"p":"E","s":"1L","x":4.38,"y":125},{"p":"E","s":"1L","x":4.34,"y":123},{"p":"E","s":"1L","x":4.31,"y":122},{"p":"E","s":"1L","x":4.27,"y":123},{"p":"E","s":"1L","x":4.23,"y":124},{"p":"E","s":"1L","x":4.19,"y":122},{"p":"E","s":"1L","x":4.14,"y":121},{"p":"E","s":"1L","x":4.10,"y":122},{"p":"E","s":"1L","x":4.07,"y":121},{"p":"E","s":"1L","x":4.03,"y":120},{"p":"E","s":"1L","x":3.99,"y":122},{"p":"E","s":"1L","x":3.95,"y":123},{"p":"E","s":"1L","x":3.92,"y":127},{"p":"E","s":"1L","x":3.90,"y":131},{"p":"E","s":"1L","x":3.87,"y":136},{"p":"E","s":"1L","x":3.84,"y":141},{"p":"E","s":"1L","x":3.82,"y":145},{"p":"E","s":"1L","x":3.80,"y":146},{"p":"E","s":"1L","x":3.77,"y":145},{"p":"E","s":"1L","x":3.75,"y":143},{"p":"E","s":"1L","x":3.73,"y":137},{"p":"E","s":"1L","x":3.71,"y":131},{"p":"E","s":"1L","x":3.68,"y":127},{"p":"E","s":"1L","x":3.66,"y":125},{"p":"E","s":"1L","x":3.62,"y":124},{"p":"E","s":"1L","x":3.59,"y":123},{"p":"E","s":"1L","x":3.55,"y":124},{"p":"E","s":"1L","x":3.52,"y":125},{"p":"E","s":"1L","x":3.50,"y":128},{"p":"E","s":"1L","x":3.47,"y":130},{"p":"E","s":"1L","x":3.45,"y":126},{"p":"E","s":"1L","x":3.42,"y":123},{"p":"E","s":"1L","x":3.38,"y":122},{"p":"E","s":"1L","x":3.35,"y":121},{"p":"E","s":"1L","x":3.32,"y":123},{"p":"E","s":"1L","x":3.28,"y":125},{"p":"E","s":"1L","x":3.25,"y":123},{"p":"E","s":"1L","x":3.22,"y":121},{"p":"E","s":"1L","x":3.18,"y":125},{"p":"E","s":"1L","x":3.15,"y":130},{"p":"E","s":"1L","x":3.12,"y":137},{"p":"E","s":"1L","x":3.08,"y":143},{"p":"E","s":"1L","x":3.05,"y":147},{"p":"E","s":"1L","x":3.01,"y":148},{"p":"E","s":"1L","x":2.98,"y":146},{"p":"E","s":"1L","x":2.96,"y":143},{"p":"E","s":"1L","x":2.93,"y":136},{"p":"E","s":"1L","x":2.91,"y":130},{"p":"E","s":"1L","x":2.88,"y":125},{"p":"E","s":"1L","x":2.86,"y":123},{"p":"E","s":"1L","x":2.82,"y":124},{"p":"E","s":"1L","x":2.79,"y":125},{"p":"E","s":"1L","x":2.76,"y":122},{"p":"E","s":"1L","x":2.73,"y":120},{"p":"E","s":"1L","x":2.70,"y":123},{"p":"E","s":"1L","x":2.66,"y":126},{"p":"E","s":"1L","x":2.63,"y":123},{"p":"E","s":"1L","x":2.59,"y":120},{"p":"E","s":"1L","x":2.56,"y":122},{"p":"E","s":"1L","x":2.52,"y":125},{"p":"E","s":"1L","x":2.48,"y":123},{"p":"E","s":"1L","x":2.43,"y":121},{"p":"E","s":"1L","x":2.40,"y":119},{"p":"E","s":"1L","x":2.38,"y":116},{"p":"E","s":"1L","x":2.36,"y":123},{"p":"E","s":"1L","x":2.33,"y":130},{"p":"E","s":"1L","x":2.31,"y":125},{"p":"E","s":"1L","x":2.30,"y":120},{"p":"E","s":"1L","x":2.27,"y":116},{"p":"E","s":"1L","x":2.25,"y":113},{"p":"E","s":"1L","x":2.23,"y":95},{"p":"E","s":"1L","x":2.21,"y":73},{"p":"E","s":"1L","x":2.19,"y":48},{"p":"E","s":"1L","x":2.17,"y":23},{"p":"E","s":"1L","x":2.15,"y":5},{"p":"E","s":"1L","x":2.14,"y":-6},
{"p":"E","s":"1R","x":1.99,"y":-6},{"p":"E","s":"1R","x":1.97,"y":15},{"p":"E","s":"1R","x":1.96,"y":40},{"p":"E","s":"1R","x":1.94,"y":65},{"p":"E","s":"1R","x":1.92,"y":90},{"p":"E","s":"1R","x":1.89,"y":108},{"p":"E","s":"1R","x":1.85,"y":118},{"p":"E","s":"1R","x":1.82,"y":121},{"p":"E","s":"1R","x":1.78,"y":123},{"p":"E","s":"1R","x":1.75,"y":122},{"p":"E","s":"1R","x":1.72,"y":121},{"p":"E","s":"1R","x":1.68,"y":123},{"p":"E","s":"1R","x":1.65,"y":125},{"p":"E","s":"1R","x":1.62,"y":123},{"p":"E","s":"1R","x":1.58,"y":121},{"p":"E","s":"1R","x":1.55,"y":124},{"p":"E","s":"1R","x":1.51,"y":126},{"p":"E","s":"1R","x":1.48,"y":123},{"p":"E","s":"1R","x":1.44,"y":121},{"p":"E","s":"1R","x":1.41,"y":123},{"p":"E","s":"1R","x":1.38,"y":125},{"p":"E","s":"1R","x":1.34,"y":123},{"p":"E","s":"1R","x":1.31,"y":121},{"p":"E","s":"1R","x":1.28,"y":123},{"p":"E","s":"1R","x":1.24,"y":126},{"p":"E","s":"1R","x":1.21,"y":124},{"p":"E","s":"1R","x":1.17,"y":123},{"p":"E","s":"1R","x":1.14,"y":124},{"p":"E","s":"1R","x":1.10,"y":125},{"p":"E","s":"1R","x":1.07,"y":124},{"p":"E","s":"1R","x":1.03,"y":123},{"p":"E","s":"1R","x":1.00,"y":123},{"p":"E","s":"1R","x":0.96,"y":124},{"p":"E","s":"1R","x":0.93,"y":125},{"p":"E","s":"1R","x":0.90,"y":125},{"p":"E","s":"1R","x":0.87,"y":127},{"p":"E","s":"1R","x":0.85,"y":129},{"p":"E","s":"1R","x":0.83,"y":130},{"p":"E","s":"1R","x":0.80,"y":129},{"p":"E","s":"1R","x":0.78,"y":128},{"p":"E","s":"1R","x":0.75,"y":124},{"p":"E","s":"1R","x":0.73,"y":120},{"p":"E","s":"1R","x":0.70,"y":121},{"p":"E","s":"1R","x":0.66,"y":123},{"p":"E","s":"1R","x":0.63,"y":124},{"p":"E","s":"1R","x":0.59,"y":125},
{"p":"E","s":"2L","x":4.51,"y":50},{"p":"E","s":"2L","x":4.47,"y":49},{"p":"E","s":"2L","x":4.44,"y":47},{"p":"E","s":"2L","x":4.41,"y":49},{"p":"E","s":"2L","x":4.38,"y":51},{"p":"E","s":"2L","x":4.34,"y":50},{"p":"E","s":"2L","x":4.29,"y":48},{"p":"E","s":"2L","x":4.25,"y":49},{"p":"E","s":"2L","x":4.20,"y":50},{"p":"E","s":"2L","x":4.16,"y":49},{"p":"E","s":"2L","x":4.12,"y":48},{"p":"E","s":"2L","x":4.07,"y":50},{"p":"E","s":"2L","x":4.03,"y":51},{"p":"E","s":"2L","x":4.00,"y":53},{"p":"E","s":"2L","x":3.97,"y":55},{"p":"E","s":"2L","x":3.94,"y":62},{"p":"E","s":"2L","x":3.91,"y":73},{"p":"E","s":"2L","x":3.88,"y":84},{"p":"E","s":"2L","x":3.86,"y":93},{"p":"E","s":"2L","x":3.84,"y":99},{"p":"E","s":"2L","x":3.82,"y":103},{"p":"E","s":"2L","x":3.79,"y":104},{"p":"E","s":"2L","x":3.76,"y":103},{"p":"E","s":"2L","x":3.74,"y":96},{"p":"E","s":"2L","x":3.71,"y":86},{"p":"E","s":"2L","x":3.69,"y":75},{"p":"E","s":"2L","x":3.66,"y":63},{"p":"E","s":"2L","x":3.63,"y":55},{"p":"E","s":"2L","x":3.59,"y":50},{"p":"E","s":"2L","x":3.55,"y":49},{"p":"E","s":"2L","x":3.52,"y":48},{"p":"E","s":"2L","x":3.50,"y":52},{"p":"E","s":"2L","x":3.48,"y":55},{"p":"E","s":"2L","x":3.45,"y":50},{"p":"E","s":"2L","x":3.42,"y":46},{"p":"E","s":"2L","x":3.39,"y":48},{"p":"E","s":"2L","x":3.35,"y":50},{"p":"E","s":"2L","x":3.32,"y":49},{"p":"E","s":"2L","x":3.28,"y":46},{"p":"E","s":"2L","x":3.25,"y":48},{"p":"E","s":"2L","x":3.22,"y":51},{"p":"E","s":"2L","x":3.19,"y":56},{"p":"E","s":"2L","x":3.16,"y":63},{"p":"E","s":"2L","x":3.13,"y":76},{"p":"E","s":"2L","x":3.11,"y":90},{"p":"E","s":"2L","x":3.08,"y":101},{"p":"E","s":"2L","x":3.05,"y":110},{"p":"E","s":"2L","x":3.03,"y":113},{"p":"E","s":"2L","x":3.01,"y":115},{"p":"E","s":"2L","x":2.99,"y":112},{"p":"E","s":"2L","x":2.96,"y":106},{"p":"E","s":"2L","x":2.94,"y":94},{"p":"E","s":"2L","x":2.92,"y":80},{"p":"E","s":"2L","x":2.89,"y":69},{"p":"E","s":"2L","x":2.86,"y":60},{"p":"E","s":"2L","x":2.83,"y":56},{"p":"E","s":"2L","x":2.79,"y":53},{"p":"E","s":"2L","x":2.75,"y":52},{"p":"E","s":"2L","x":2.70,"y":51},{"p":"E","s":"2L","x":2.65,"y":51},{"p":"E","s":"2L","x":2.60,"y":50},{"p":"E","s":"2L","x":2.55,"y":50},{"p":"E","s":"2L","x":2.50,"y":51},{"p":"E","s":"2L","x":2.45,"y":49},{"p":"E","s":"2L","x":2.40,"y":48},{"p":"E","s":"2L","x":2.36,"y":49},{"p":"E","s":"2L","x":2.32,"y":50},{"p":"E","s":"2L","x":2.29,"y":48},{"p":"E","s":"2L","x":2.26,"y":46},{"p":"E","s":"2L","x":2.24,"y":38},{"p":"E","s":"2L","x":2.22,"y":26},{"p":"E","s":"2L","x":2.20,"y":12},{"p":"E","s":"2L","x":2.18,"y":0},{"p":"E","s":"2L","x":2.17,"y":-6},
{"p":"E","s":"2R","x":1.95,"y":-6},{"p":"E","s":"2R","x":1.94,"y":12},{"p":"E","s":"2R","x":1.93,"y":33},{"p":"E","s":"2R","x":1.91,"y":44},{"p":"E","s":"2R","x":1.89,"y":50},{"p":"E","s":"2R","x":1.85,"y":51},{"p":"E","s":"2R","x":1.82,"y":51},{"p":"E","s":"2R","x":1.79,"y":49},{"p":"E","s":"2R","x":1.75,"y":48},{"p":"E","s":"2R","x":1.72,"y":50},{"p":"E","s":"2R","x":1.68,"y":51},{"p":"E","s":"2R","x":1.65,"y":50},{"p":"E","s":"2R","x":1.61,"y":50},{"p":"E","s":"2R","x":1.58,"y":52},{"p":"E","s":"2R","x":1.55,"y":53},{"p":"E","s":"2R","x":1.51,"y":50},{"p":"E","s":"2R","x":1.48,"y":48},{"p":"E","s":"2R","x":1.44,"y":50},{"p":"E","s":"2R","x":1.41,"y":51},{"p":"E","s":"2R","x":1.38,"y":50},{"p":"E","s":"2R","x":1.34,"y":50},{"p":"E","s":"2R","x":1.31,"y":51},{"p":"E","s":"2R","x":1.27,"y":51},{"p":"E","s":"2R","x":1.24,"y":49},{"p":"E","s":"2R","x":1.21,"y":47},{"p":"E","s":"2R","x":1.17,"y":50},{"p":"E","s":"2R","x":1.14,"y":51},{"p":"E","s":"2R","x":1.10,"y":50},{"p":"E","s":"2R","x":1.07,"y":51},{"p":"E","s":"2R","x":1.03,"y":50},{"p":"E","s":"2R","x":1.00,"y":51},{"p":"E","s":"2R","x":0.96,"y":53},{"p":"E","s":"2R","x":0.93,"y":55},{"p":"E","s":"2R","x":0.90,"y":52},{"p":"E","s":"2R","x":0.86,"y":50},{"p":"E","s":"2R","x":0.83,"y":49},{"p":"E","s":"2R","x":0.80,"y":48},{"p":"E","s":"2R","x":0.76,"y":49},{"p":"E","s":"2R","x":0.73,"y":50},{"p":"E","s":"2R","x":0.69,"y":51},{"p":"E","s":"2R","x":0.66,"y":50},{"p":"E","s":"2R","x":0.62,"y":50},{"p":"E","s":"2R","x":0.59,"y":50}
]
},
"spacing": 33,
"vconcat": [
{"hconcat": [
 {"title": {"text": "A", "offset": 10}, "width": 224, "height": 225,
  "encoding": {
   "x": {"field": "x", "type": "quantitative", "scale": {"domain": [0.245, 4.816], "reverse": true, "nice": false, "zero": false},
     "axis": {"title": null, "offset": -39.5, "domain": false, "grid": false, "values": [0.5,0.6,0.7,0.8,0.9,1,1.1,1.2,1.3,1.4,1.5,1.6,1.7,1.8,1.9,2,2.1,2.2,2.3,2.4,2.5,2.6,2.7,2.8,2.9,3,3.1,3.2,3.3,3.4,3.5,3.6,3.7,3.8,3.9,4,4.1,4.2,4.3,4.4,4.5], "tickSize": 3, "tickColor": "black", "tickWidth": 1, "labelExpr": "abs(datum.value-2)<0.01 ? 'ppm' : (abs(datum.value-round(datum.value))<0.01 ? format(datum.value,'.0f') : '')", "labelFont": "Liberation Sans", "labelFontSize": 17, "labelFontWeight": "bold", "labelColor": "black", "labelPadding": 10, "labelOverlap": false, "labelFlush": false, "labelBound": false}},
   "y": {"field": "y", "type": "quantitative", "scale": {"domain": [-39.5, 185.5], "nice": false, "zero": false},
     "axis": {"title": null, "values": [122, 47], "labelExpr": "datum.value > 100 ? '1-channel' : '8-channel'", "domain": false, "ticks": false, "grid": false, "labelFont": "Liberation Sans", "labelFontSize": 17, "labelFontWeight": "bold", "labelColor": "black", "labelPadding": 30, "labelOverlap": false}}
  },
  "layer": [
   {"data": {"name": "sp"}, "transform": [{"filter": "datum.p == 'A'"}], "mark": {"type": "line", "color": "black", "strokeWidth": 2.6, "strokeJoin": "round", "clip": true}, "encoding": {"detail": {"field": "s"}}},
   {"data": {"name": "base"}, "transform": [{"filter": "datum.p == 'A'"}], "mark": {"type": "rule", "color": "black", "strokeWidth": 1.5}, "encoding": {"x2": {"field": "x2"}}},
   {"data": {"name": "lab"}, "transform": [{"filter": "datum.p == 'A'"}], "mark": {"type": "text", "font": "Liberation Sans", "fontSize": 14, "fontWeight": "bold", "color": "black"}, "encoding": {"text": {"field": "text"}}}
  ]},
 {"title": {"text": "B", "offset": 10}, "width": 224, "height": 225,
  "encoding": {
   "x": {"field": "x", "type": "quantitative", "scale": {"domain": [0.072, 4.689], "reverse": true, "nice": false, "zero": false},
     "axis": {"title": null, "offset": -39.5, "domain": false, "grid": false, "values": [0.5,0.6,0.7,0.8,0.9,1,1.1,1.2,1.3,1.4,1.5,1.6,1.7,1.8,1.9,2,2.1,2.2,2.3,2.4,2.5,2.6,2.7,2.8,2.9,3,3.1,3.2,3.3,3.4,3.5,3.6,3.7,3.8,3.9,4,4.1,4.2,4.3,4.4,4.5], "tickSize": 3, "tickColor": "black", "tickWidth": 1, "labelExpr": "abs(datum.value-2)<0.01 ? 'ppm' : (abs(datum.value-round(datum.value))<0.01 ? format(datum.value,'.0f') : '')", "labelFont": "Liberation Sans", "labelFontSize": 17, "labelFontWeight": "bold", "labelColor": "black", "labelPadding": 10, "labelOverlap": false, "labelFlush": false, "labelBound": false}},
   "y": {"field": "y", "type": "quantitative", "scale": {"domain": [-39.5, 185.5], "nice": false, "zero": false}, "axis": null}
  },
  "layer": [
   {"data": {"name": "sp"}, "transform": [{"filter": "datum.p == 'B'"}], "mark": {"type": "line", "color": "black", "strokeWidth": 2.6, "strokeJoin": "round", "clip": true}, "encoding": {"detail": {"field": "s"}}},
   {"data": {"name": "base"}, "transform": [{"filter": "datum.p == 'B'"}], "mark": {"type": "rule", "color": "black", "strokeWidth": 1.5}, "encoding": {"x2": {"field": "x2"}}},
   {"data": {"name": "lab"}, "transform": [{"filter": "datum.p == 'B'"}], "mark": {"type": "text", "font": "Liberation Sans", "fontSize": 14, "fontWeight": "bold", "color": "black"}, "encoding": {"text": {"field": "text"}}}
  ]},
 {"title": {"text": "C", "offset": 10}, "width": 223, "height": 225,
  "encoding": {
   "x": {"field": "x", "type": "quantitative", "scale": {"domain": [0.157, 4.773], "reverse": true, "nice": false, "zero": false},
     "axis": {"title": null, "offset": -39.5, "domain": false, "grid": false, "values": [0.5,0.6,0.7,0.8,0.9,1,1.1,1.2,1.3,1.4,1.5,1.6,1.7,1.8,1.9,2,2.1,2.2,2.3,2.4,2.5,2.6,2.7,2.8,2.9,3,3.1,3.2,3.3,3.4,3.5,3.6,3.7,3.8,3.9,4,4.1,4.2,4.3,4.4,4.5], "tickSize": 3, "tickColor": "black", "tickWidth": 1, "labelExpr": "abs(datum.value-2)<0.01 ? 'ppm' : (abs(datum.value-round(datum.value))<0.01 ? format(datum.value,'.0f') : '')", "labelFont": "Liberation Sans", "labelFontSize": 17, "labelFontWeight": "bold", "labelColor": "black", "labelPadding": 10, "labelOverlap": false, "labelFlush": false, "labelBound": false}},
   "y": {"field": "y", "type": "quantitative", "scale": {"domain": [-39.5, 185.5], "nice": false, "zero": false}, "axis": null}
  },
  "layer": [
   {"data": {"name": "sp"}, "transform": [{"filter": "datum.p == 'C'"}], "mark": {"type": "line", "color": "black", "strokeWidth": 2.6, "strokeJoin": "round", "clip": true}, "encoding": {"detail": {"field": "s"}}},
   {"data": {"name": "base"}, "transform": [{"filter": "datum.p == 'C'"}], "mark": {"type": "rule", "color": "black", "strokeWidth": 1.5}, "encoding": {"x2": {"field": "x2"}}},
   {"data": {"name": "lab"}, "transform": [{"filter": "datum.p == 'C'"}], "mark": {"type": "text", "font": "Liberation Sans", "fontSize": 14, "fontWeight": "bold", "color": "black"}, "encoding": {"text": {"field": "text"}}}
  ]}
], "spacing": 3},
{"hconcat": [
 {"title": {"text": "D", "offset": 14}, "width": 225, "height": 227,
  "encoding": {
   "x": {"field": "x", "type": "quantitative", "scale": {"domain": [0.188, 4.775], "reverse": true, "nice": false, "zero": false},
     "axis": {"title": null, "offset": -42.5, "domain": false, "grid": false, "values": [0.6,0.7,0.8,0.9,1,1.1,1.2,1.3,1.4,1.5,1.6,1.7,1.8,1.9,2,2.1,2.2,2.3,2.4,2.5,2.6,2.7,2.8,2.9,3,3.1,3.2,3.3,3.4,3.5,3.6,3.7,3.8,3.9,4,4.1,4.2,4.3,4.4,4.5], "tickSize": 3, "tickColor": "black", "tickWidth": 1, "labelExpr": "abs(datum.value-2)<0.01 ? 'ppm' : (abs(datum.value-round(datum.value))<0.01 ? format(datum.value,'.0f') : '')", "labelFont": "Liberation Sans", "labelFontSize": 17, "labelFontWeight": "bold", "labelColor": "black", "labelPadding": 10, "labelOverlap": false, "labelFlush": false, "labelBound": false}},
   "y": {"field": "y", "type": "quantitative", "scale": {"domain": [-42.5, 184.5], "nice": false, "zero": false},
     "axis": {"title": null, "values": [126, 49], "labelExpr": "'8-channel'", "domain": false, "ticks": false, "grid": false, "labelFont": "Liberation Sans", "labelFontSize": 17, "labelFontWeight": "bold", "labelColor": "black", "labelPadding": 28, "labelOverlap": false}}
  },
  "layer": [
   {"data": {"name": "sp"}, "transform": [{"filter": "datum.p == 'D'"}], "mark": {"type": "line", "color": "black", "strokeWidth": 2.6, "strokeJoin": "round", "clip": true}, "encoding": {"detail": {"field": "s"}}},
   {"data": {"name": "base"}, "transform": [{"filter": "datum.p == 'D'"}], "mark": {"type": "rule", "color": "black", "strokeWidth": 1.5}, "encoding": {"x2": {"field": "x2"}}},
   {"data": {"name": "lab"}, "transform": [{"filter": "datum.p == 'D'"}], "mark": {"type": "text", "font": "Liberation Sans", "fontSize": 14, "fontWeight": "bold", "color": "black"}, "encoding": {"text": {"field": "text"}}}
  ]},
 {"title": {"text": "E", "offset": 14}, "width": 228, "height": 227,
  "encoding": {
   "x": {"field": "x", "type": "quantitative", "scale": {"domain": [0.182, 4.853], "reverse": true, "nice": false, "zero": false},
     "axis": {"title": null, "offset": -42.5, "domain": false, "grid": false, "values": [0.6,0.7,0.8,0.9,1,1.1,1.2,1.3,1.4,1.5,1.6,1.7,1.8,1.9,2,2.1,2.2,2.3,2.4,2.5,2.6,2.7,2.8,2.9,3,3.1,3.2,3.3,3.4,3.5,3.6,3.7,3.8,3.9,4,4.1,4.2,4.3,4.4,4.5,4.6,4.7,4.8], "tickSize": 3, "tickColor": "black", "tickWidth": 1, "labelExpr": "abs(datum.value-2)<0.01 ? 'ppm' : (abs(datum.value-round(datum.value))<0.01 ? format(datum.value,'.0f') : '')", "labelFont": "Liberation Sans", "labelFontSize": 17, "labelFontWeight": "bold", "labelColor": "black", "labelPadding": 10, "labelOverlap": false, "labelFlush": false, "labelBound": false}},
   "y": {"field": "y", "type": "quantitative", "scale": {"domain": [-42.5, 184.5], "nice": false, "zero": false}, "axis": null}
  },
  "layer": [
   {"data": {"name": "sp"}, "transform": [{"filter": "datum.p == 'E'"}], "mark": {"type": "line", "color": "black", "strokeWidth": 2.6, "strokeJoin": "round", "clip": true}, "encoding": {"detail": {"field": "s"}}},
   {"data": {"name": "base"}, "transform": [{"filter": "datum.p == 'E'"}], "mark": {"type": "rule", "color": "black", "strokeWidth": 1.5}, "encoding": {"x2": {"field": "x2"}}},
   {"data": {"name": "lab"}, "transform": [{"filter": "datum.p == 'E'"}], "mark": {"type": "text", "font": "Liberation Sans", "fontSize": 14, "fontWeight": "bold", "color": "black"}, "encoding": {"text": {"field": "text"}}}
  ]}
], "spacing": 0}
]
}
